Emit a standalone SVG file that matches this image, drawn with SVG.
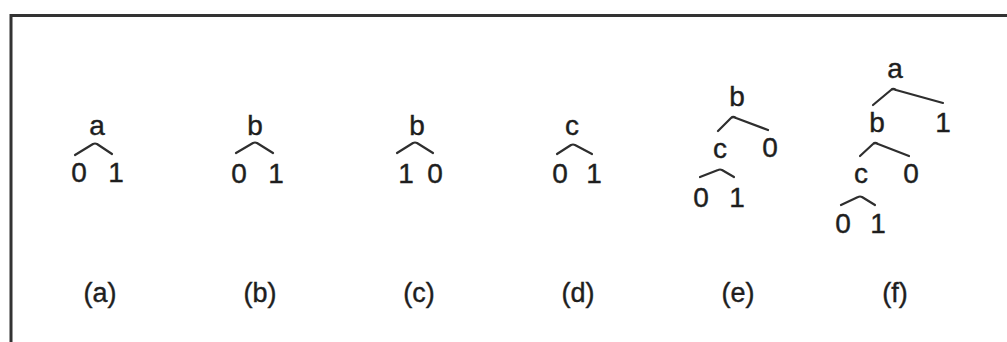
<svg xmlns="http://www.w3.org/2000/svg" width="1007" height="342" viewBox="0 0 1007 342">
<style>
text{font-family:"Liberation Sans",Arial,sans-serif;font-size:28px;fill:#1e1e1e;stroke:#1e1e1e;stroke-width:0.4;text-anchor:middle}
.lab{font-size:27px}
.e{fill:none;stroke:#2e2e2e;stroke-width:2.2;stroke-linejoin:round;stroke-linecap:round}
.frame{fill:none;stroke:#333;stroke-width:3}
</style>
<rect width="1007" height="342" fill="#fff"/>
<path class="frame" d="M11 342 V15.5 H1007"/>
<g id="connectors">
<path class="e" d="M75 155 L93 144 Q95 143 97 144 L112 154"/>
<path class="e" d="M236 153 L253 143 Q255 142 257 143 L273 153"/>
<path class="e" d="M397 153 L413 143 Q415 142 417 143 L433 153"/>
<path class="e" d="M557 154 L571 145 Q573 144 575 145 L592 154"/>
<path class="e" d="M718 131 L731 118 Q733 116 736 118 L768 130"/>
<path class="e" d="M700 177 L718 170 Q720 169 722 170 L734 177"/>
<path class="e" d="M873 105 L891 90 Q893 88 896 90 L943 103"/>
<path class="e" d="M860 156 L873 144 Q875 142 878 144 L909 156"/>
<path class="e" d="M841 205 L858 197 Q860 196 862 197 L875 205"/>
</g>
<g id="tree-a">
<text x="97" y="135">a</text>
<text x="79" y="182">0</text>
<text x="116" y="182">1</text>
</g>
<g id="tree-b">
<text x="255" y="135">b</text>
<text x="239" y="183">0</text>
<text x="276" y="183">1</text>
</g>
<g id="tree-c">
<text x="417" y="135">b</text>
<text x="406" y="183">1</text>
<text x="435" y="183">0</text>
</g>
<g id="tree-d">
<text x="572" y="135">c</text>
<text x="560" y="183">0</text>
<text x="594" y="183">1</text>
</g>
<g id="tree-e">
<text x="737" y="106">b</text>
<text x="720" y="158">c</text>
<text x="770" y="157">0</text>
<text x="701" y="207">0</text>
<text x="737" y="207">1</text>
</g>
<g id="tree-f">
<text x="895" y="78">a</text>
<text x="877" y="132">b</text>
<text x="943" y="132">1</text>
<text x="861" y="183">c</text>
<text x="911" y="183">0</text>
<text x="843" y="233">0</text>
<text x="878" y="233">1</text>
</g>
<g id="labels">
<text class="lab" x="100" y="302">(a)</text>
<text class="lab" x="260" y="302">(b)</text>
<text class="lab" x="419" y="302">(c)</text>
<text class="lab" x="578" y="302">(d)</text>
<text class="lab" x="738" y="302">(e)</text>
<text class="lab" x="895" y="302">(f)</text>
</g>
</svg>
